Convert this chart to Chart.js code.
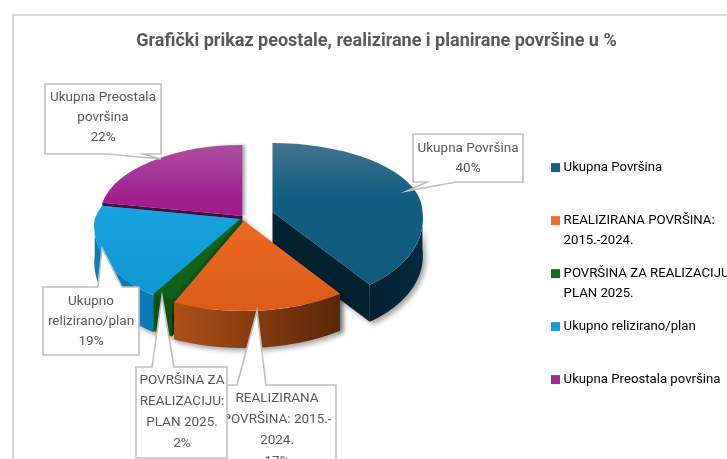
<!DOCTYPE html>
<html><head><meta charset="utf-8">
<style>html,body{margin:0;padding:0;background:#fff;overflow:hidden}canvas{display:block}</style>
<script src="https://cdn.jsdelivr.net/npm/chart.js@4"></script>
</head><body><canvas id="c" width="727" height="459" style="width:727px;height:459px"></canvas>
<script>
const titleText = 'Grafički prikaz peostale, realizirane i planirane površine u %';
const categories = ['Ukupna Površina','REALIZIRANA POVRŠINA: 2015.-2024.','POVRŠINA ZA REALIZACIJU: PLAN 2025.','Ukupno relizirano/plan','Ukupna Preostala površina'];
const values = [40,17,2,19,22];
const legendLines = [['Ukupna Površina',''],['REALIZIRANA POVRŠINA:','2015.-2024.'],['POVRŠINA ZA REALIZACIJU:','PLAN 2025.'],['Ukupno relizirano/plan',''],['Ukupna Preostala površina','']];
const calloutLines = [['Ukupna Površina'],['REALIZIRANA','POVRŠINA: 2015.-','2024.'],['POVRŠINA ZA','REALIZACIJU:','PLAN 2025.'],['Ukupno','relizirano/plan'],['Ukupna Preostala','površina']];
const baseColors = ['#156082','#E97132','#196B24','#0F9ED5','#A02B93'];
const lightColors = ['#44748F','#EC8550','#2F7D38','#3FB0E2','#AC4FA0'];
const midColors = ['#125E82','#EE6D27','#136A1E','#1AA3DD','#A01E8E'];
const darkColors = ['#0F5A7C','#DB5C1A','#0F5E18','#0C95D0','#961A86'];
const wallColors = [['#03222F','#032A40'],['#AD5018','#5A2608'],['#0E5216','#0E5216'],['#0B7CB6','#0B7CB6'],['#4A0A44','#4A0A44']];

const CX=243, CY=216, R=150, DEPTH=37;
const EXPLODE=[31,9,3,3,1];
const APEX_DY=[0,0,0,2,0];
const ORDER=[4,0,3,2,1];
const BACK_K=[69/150,71/150,71/150,71/150,71/150], FRONT_K=[.6,.6,.6,.6,.6];
const BACK_SX=[1,1,1,.97,.95], FRONT_SX=[1,1.09,1.09,.97,1];
const BACK_SH=[0,0,0,-.35,0], FRONT_SH=[.125,0,0,-.12,0];
const FONT='Roboto', TEXT='#595959';

function slicePt(i,ax,ay,a,dy){
 const s=Math.sin(a), co=Math.cos(a)*R;
 if(s<0){const y=R*s*BACK_K[i];return [ax+co*BACK_SX[i]+BACK_SH[i]*y,ay+y+(dy||0)];}
 const y=R*s*FRONT_K[i];return [ax+co*FRONT_SX[i]+FRONT_SH[i]*y,ay+y+(dy||0)];
}

const pie3d={id:'pie3d',
 afterLayout(chart){const l=chart.legend; l.left=541; l.right=727; l.top=148; l.bottom=459;
  chart.titleBlock.left=26; chart.titleBlock.right=727;},
 beforeDraw(chart){const c=chart.ctx;c.save();c.fillStyle='#fff';c.fillRect(0,0,727,459);c.strokeStyle='#D9D9D9';c.lineWidth=2;c.strokeRect(13,15,800,800);c.restore();},
 beforeDatasetDraw(chart,args){
  const c=chart.ctx, arcs=args.meta.data;
  ORDER.forEach(i=>{
   const el=arcs[i], st=el.startAngle, en=el.endAngle, mid=(st+en)/2, s=Math.sin(mid);
   const ax=CX+Math.cos(mid)*EXPLODE[i], ay=Math.round(CY+s*EXPLODE[i]*(s<0?BACK_K[i]:FRONT_K[i]))+APEX_DY[i];
   c.save();
   c.shadowColor='rgba(0,0,0,.35)';c.shadowBlur=5;c.shadowOffsetX=3;c.shadowOffsetY=3;
   c.fillStyle=wallColors[i][0];
   [st,en].forEach(a=>{const p=slicePt(i,ax,ay,a);c.beginPath();c.moveTo(ax,ay);c.lineTo(p[0],p[1]);c.lineTo(p[0],p[1]+DEPTH);c.lineTo(ax,ay+DEPTH);c.closePath();c.fill();});
   const a1=Math.max(st,0), a2=Math.min(en,Math.PI);
   if(a2>a1){
    const p1=slicePt(i,ax,ay,a2),p2=slicePt(i,ax,ay,a1);
    const g=c.createLinearGradient(Math.min(p1[0],p2[0]),0,Math.max(p1[0],p2[0]),0);
    g.addColorStop(0,wallColors[i][0]);g.addColorStop(1,wallColors[i][1]);
    c.fillStyle=g;c.beginPath();
    for(let k=0;k<=48;k++){const p=slicePt(i,ax,ay,a1+(a2-a1)*k/48);k?c.lineTo(p[0],p[1]):c.moveTo(p[0],p[1]);}
    for(let k=48;k>=0;k--){const p=slicePt(i,ax,ay,a1+(a2-a1)*k/48,DEPTH);c.lineTo(p[0],p[1]);}
    c.closePath();c.fill();
   }
   c.restore();
   // top face: the library's arc, drawn through a different projection behind and in front of the apex
   [[0,ay,BACK_K[i],BACK_SX[i],BACK_SH[i]],[ay,459-ay,FRONT_K[i],FRONT_SX[i],FRONT_SH[i]]].forEach(h=>{
    c.save();c.beginPath();c.rect(0,h[0],727,h[1]);c.clip();
    if(i===4){c.shadowColor='rgba(0,0,0,.3)';c.shadowBlur=3;c.shadowOffsetX=3;c.shadowOffsetY=0;}
    c.translate(ax,ay);c.transform(h[3],0,h[4]*h[2],h[2],0,0);c.translate(-el.x,-el.y);
    el.draw(c,chart.chartArea);
    c.restore();
   });
  });
  return false;
 },
 afterDraw(chart){
  const c=chart.ctx;
  const boxes=[
   {i:0,r:[413,134,110,48],p:[[427,182],[407,191],[456,182]],tx:468,ty:149,lh:20},
   {i:1,r:[218,385,118,90],p:[[237,385],[257,311],[266,385]],tx:277,ty:399,lh:21},
   {i:2,r:[136,367,91,91],p:[[152,367],[162,296],[174,367]],tx:182,ty:381,lh:21},
   {i:3,r:[43,287,96,68],p:[[98,287],[102,248],[122,287]],tx:91,ty:302,lh:20},
   {i:4,r:[45,84,116,70],p:[[108,154],[161,159],[143,154]],tx:103,ty:98,lh:20}];
  boxes.forEach(b=>{
   c.save();
   const [x,y,w,h]=b.r, px=b.p;
   c.beginPath();c.moveTo(x,y);
   if(px[0][1]===y){c.lineTo(px[0][0],y);c.lineTo(px[1][0],px[1][1]);c.lineTo(px[2][0],y);}
   c.lineTo(x+w,y);c.lineTo(x+w,y+h);
   if(px[0][1]===y+h){c.lineTo(px[2][0],y+h);c.lineTo(px[1][0],px[1][1]);c.lineTo(px[0][0],y+h);}
   c.lineTo(x,y+h);c.closePath();
   c.fillStyle='#fff';c.strokeStyle='#BFBFBF';c.lineWidth=1.6;c.fill();c.stroke();
   c.fillStyle=TEXT;c.font='13.5px '+FONT;c.textAlign='center';c.textBaseline='middle';
   [...calloutLines[b.i], values[b.i]+'%'].forEach((t,k)=>c.fillText(t,b.tx,b.ty+k*b.lh));
   c.restore();
  });
 }
};

function topGradient(ctx){
 const i=ctx.dataIndex, a=ctx.chart.chartArea; if(!a) return baseColors[i];
 const y=(a.top+a.bottom)/2, g=ctx.chart.ctx.createLinearGradient(0,y-R,0,y+R);
 g.addColorStop(0,lightColors[i]);g.addColorStop(.38,midColors[i]);g.addColorStop(1,darkColors[i]);
 return g;
}

new Chart(document.getElementById('c'),{
 type:'pie',
 data:{labels:categories,datasets:[{data:values,backgroundColor:topGradient,borderWidth:0,radius:R}]},
 plugins:[pie3d],
 options:{responsive:false,animation:false,
  layout:{padding:0},
  plugins:{
   title:{display:true,text:titleText,color:TEXT,font:{family:FONT,size:18,weight:'bold'},padding:{top:31,bottom:10}},
   tooltip:{enabled:false},
   legend:{display:true,position:'right',align:'start',
    labels:{boxWidth:3,boxHeight:3,padding:13,color:TEXT,font:{family:FONT,size:13.2,lineHeight:'20px'},
     generateLabels:()=>legendLines.map((t,i)=>({text:t,fillStyle:baseColors[i],strokeStyle:baseColors[i],lineWidth:6,hidden:false,index:i}))}}
  }}
});
</script></body></html>
